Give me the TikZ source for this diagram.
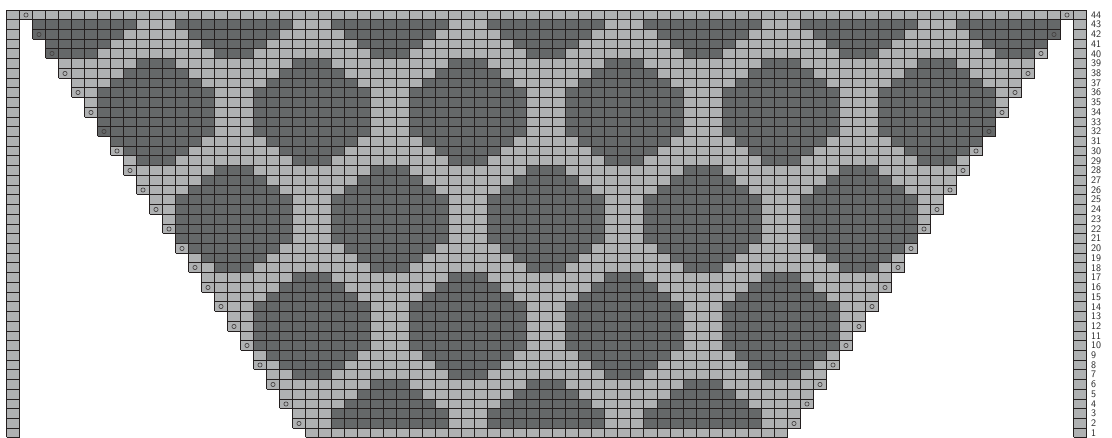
\documentclass[tikz,border=0pt]{standalone}
\usepackage{tikz}
\definecolor{mainyarn}{RGB}{175,177,178}
\definecolor{dotyarn}{RGB}{101,104,105}
\definecolor{gridline}{RGB}{36,31,31}
\tikzset{
  main cell/.style={
    fill=mainyarn
  },
  dot cell/.style={
    fill=dotyarn
  },
  grid rule/.style={
    draw=gridline,
    line width=1.3pt
  },
  yo mark/.style={
    draw=gridline!85,
    line width=0.7pt
  },
  row label/.style={
    anchor=west,
    inner sep=0pt,
    font=\sffamily\fontsize{10}{10}\selectfont,
    text=black!85
  }
}
% column and row edges, snapped to the pixel grid
\newcommand{\colx}[1]{floor(6+(#1)*13.02)+0.5}
\newcommand{\rowy}[1]{floor((#1)*9.727)+0.5}

\begin{document}
\begin{tikzpicture}[x=1pt, y=1pt]
  \useasboundingbox (0,0) rectangle (1112,438);

  %% ---- edge stitches, both sides ----
  \foreach \k in {0,82} {
    \fill[main cell] ({\colx{\k}},{\rowy{0}}) rectangle ({\colx{\k+1}},{\rowy{44}});
    \draw[grid rule] ({\colx{\k}},{\rowy{0}}) -- ({\colx{\k}},{\rowy{44}});
    \draw[grid rule] ({\colx{\k+1}},{\rowy{0}}) -- ({\colx{\k+1}},{\rowy{44}});
    \foreach \r in {0,...,44} {
      \draw[grid rule] ({\colx{\k}},{\rowy{\r}}) -- ({\colx{\k+1}},{\rowy{\r}});
    }
  }

  %% ---- shawl body: dots on a staggered grid ----
  \foreach \r in {1,...,44} {
    \pgfmathtruncatemacro{\s}{1+floor((45-\r)/2)}
    \pgfmathtruncatemacro{\e}{82-\s}
    \pgfmathtruncatemacro{\b}{round((\r-1)/11)}
    \pgfmathtruncatemacro{\dr}{abs(\r-1-11*\b)}
    \pgfmathtruncatemacro{\h}{\dr<=2 ? 4 : (\dr<=5 ? 6-\dr : -1)}
    \pgfmathtruncatemacro{\cz}{isodd(\b) ? 11 : 5}
    \foreach \c in {\s,...,\e} {
      \pgfmathtruncatemacro{\m}{mod(\c-\cz+120,12)}
      \pgfmathtruncatemacro{\dc}{min(\m,12-\m)}
      \pgfmathtruncatemacro{\dark}{((\dc<=\h) && (\r>1) && (\r<44)) || ((\r==40) && (\c==3)) ? 1 : 0}
      \ifnum\dark=1
        \fill[dot cell] ({\colx{\c}}, {\rowy{\r-1}}) rectangle ({\colx{\c+1}}, {\rowy{\r}});
      \else
        \fill[main cell] ({\colx{\c}}, {\rowy{\r-1}}) rectangle ({\colx{\c+1}}, {\rowy{\r}});
      \fi
    }
  }

  %% ---- grid rules, each drawn once ----
  \foreach \r in {1,...,44} {
    \pgfmathtruncatemacro{\s}{1+floor((45-\r)/2)}
    \pgfmathtruncatemacro{\ee}{83-\s}
    \draw[grid rule] ({\colx{\s}}, {\rowy{\r-1}}) -- ({\colx{\ee}}, {\rowy{\r-1}});
    \foreach \c in {\s,...,\ee} {
      \draw[grid rule] ({\colx{\c}}, {\rowy{\r-1}}) -- ({\colx{\c}}, {\rowy{\r}});
    }
  }
  \draw[grid rule] ({\colx{1}}, {\rowy{44}}) -- ({\colx{82}}, {\rowy{44}});

  %% ---- yarn overs at both ends of even rows ----
  \foreach \r in {2,4,...,44} {
    \pgfmathtruncatemacro{\s}{1+(44-\r)/2}
    \pgfmathtruncatemacro{\e}{82-\s}
    \draw[yo mark] ({(\colx{\s}+\colx{\s+1})/2}, {(\rowy{\r-1}+\rowy{\r})/2}) circle (2.1);
    \draw[yo mark] ({(\colx{\e}+\colx{\e+1})/2}, {(\rowy{\r-1}+\rowy{\r})/2}) circle (2.1);
  }

  %% ---- row numbers ----
  \foreach \r in {1,...,44} {
    \node[row label] (row\r) at (1091, {(\r-0.5)*9.727}) {\r};
  }

\end{tikzpicture}
\end{document}
